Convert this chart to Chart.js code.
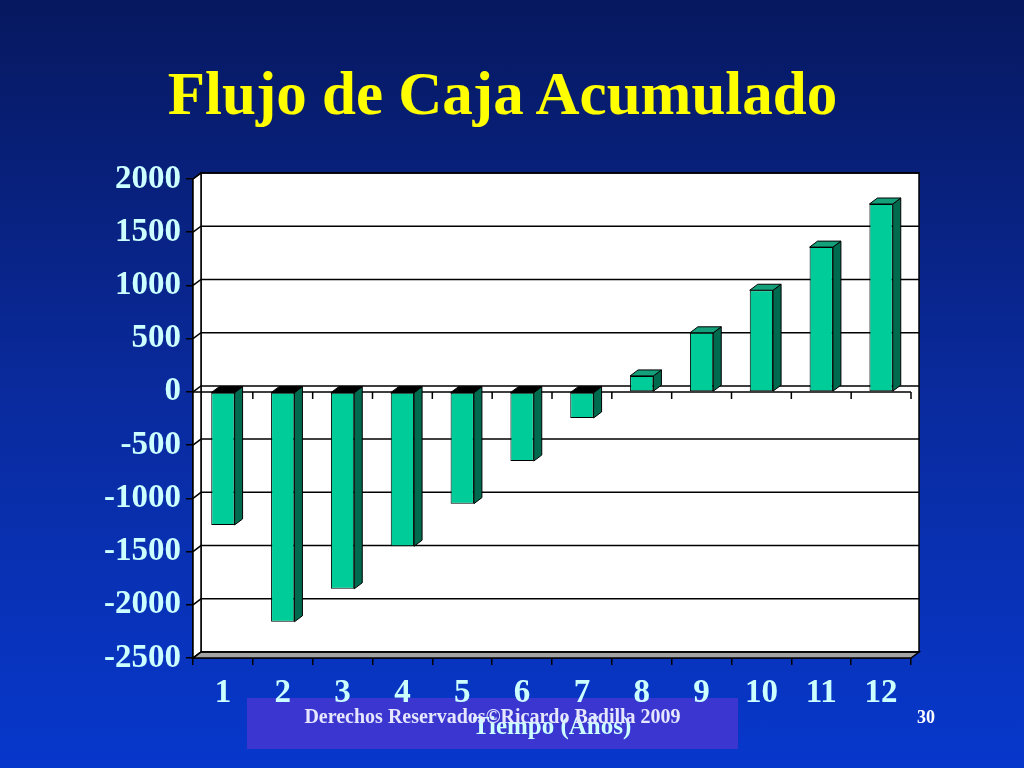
<!DOCTYPE html>
<html lang="es">
<head>
<meta charset="utf-8">
<title>Flujo de Caja Acumulado</title>
<script src="https://cdn.jsdelivr.net/npm/chart.js@4"></script>
<style>
  html, body { margin: 0; padding: 0; }
  body {
    width: 1024px; height: 768px; overflow: hidden; position: relative;
    background: linear-gradient(to bottom, #06185f 0%, #0a2a9c 50%, #0738cc 100%);
    font-family: "Liberation Serif", "Times New Roman", serif;
  }
  #titulo {
    position: absolute; left: 0; top: 58px; width: 1005px; margin: 0;
    text-align: center; color: #ffff00; font-weight: bold; font-size: 61px; line-height: 72px;
  }
  #pie { position: absolute; left: 247px; top: 698px; width: 491px; height: 51px; background: #3a36cf; }
  #derechos {
    position: absolute; left: 247px; top: 704px; width: 491px;
    text-align: center; color: #e6e6ff; font-weight: bold; font-size: 20px; line-height: 24px;
  }
  #pagina {
    position: absolute; left: 906px; top: 707px; width: 40px;
    text-align: center; color: #ffffff; font-weight: bold; font-size: 18px; line-height: 20px;
  }
  #lienzo { position: absolute; left: 0; top: 0; }
</style>
</head>
<body>
<h1 id="titulo">Flujo de Caja Acumulado</h1>
<div id="pie"></div>
<canvas id="lienzo" width="1024" height="768"></canvas>
<div id="derechos">Derechos Reservados©Ricardo Badilla 2009</div>
<div id="pagina">30</div>

<script>
// datos
const anios = ['1', '2', '3', '4', '5', '6', '7', '8', '9', '10', '11', '12'];
const flujoAcumulado = [-1250, -2160, -1850, -1450, -1050, -650, -245, 150, 555, 955, 1360, 1765];
const valoresEjeY = [-2500, -2000, -1500, -1000, -500, 0, 500, 1000, 1500, 2000];

const fuente = "'Liberation Serif', 'Times New Roman', serif";
const colorTexto = '#ccffff';

// profundidad del efecto 3D
const fondoX = 8, fondoY = 6;

// paredes, piso y lineas de division dibujadas detras de las barras
const marco3d = {
  id: 'marco3d',
  beforeDatasetsDraw(chart) {
    const { ctx, chartArea: a, scales: { x, y } } = chart;
    ctx.save();
    ctx.strokeStyle = '#000';
    ctx.lineWidth = 1.5;

    // pared del fondo
    ctx.fillStyle = '#ffffff';
    ctx.fillRect(a.left + fondoX, a.top - fondoY, a.right - a.left, a.bottom - a.top);
    ctx.strokeRect(a.left + fondoX, a.top - fondoY, a.right - a.left, a.bottom - a.top);

    // pared lateral
    ctx.beginPath();
    ctx.moveTo(a.left, a.top);
    ctx.lineTo(a.left + fondoX, a.top - fondoY);
    ctx.lineTo(a.left + fondoX, a.bottom - fondoY);
    ctx.lineTo(a.left, a.bottom);
    ctx.closePath();
    ctx.fill();
    ctx.stroke();

    // piso
    ctx.beginPath();
    ctx.moveTo(a.left, a.bottom);
    ctx.lineTo(a.right, a.bottom);
    ctx.lineTo(a.right + fondoX, a.bottom - fondoY);
    ctx.lineTo(a.left + fondoX, a.bottom - fondoY);
    ctx.closePath();
    ctx.fillStyle = '#a4a4a4';
    ctx.fill();
    ctx.stroke();

    // lineas de division
    y.ticks.forEach(t => {
      const py = y.getPixelForValue(t.value);
      ctx.beginPath();
      ctx.moveTo(a.left, py);
      ctx.lineTo(a.left + fondoX, py - fondoY);
      ctx.lineTo(a.right + fondoX, py - fondoY);
      ctx.stroke();
    });

    // eje de categorias en cero
    const cero = y.getPixelForValue(0);
    ctx.beginPath();
    ctx.moveTo(a.left, cero);
    ctx.lineTo(a.right, cero);
    for (let i = 1; i <= anios.length; i++) {
      const px = x.getPixelForValue(i - 0.5);
      ctx.moveTo(px, cero);
      ctx.lineTo(px, cero + 7);
    }
    ctx.stroke();
    ctx.restore();
  },

  // caras lateral y superior de cada barra
  afterDatasetsDraw(chart) {
    const { ctx } = chart;
    const barras = chart.getDatasetMeta(0).data;
    ctx.save();
    ctx.strokeStyle = '#000';
    ctx.lineWidth = 1;
    barras.forEach((barra, i) => {
      const { x, y, base, width } = barra.getProps(['x', 'y', 'base', 'width'], true);
      const izq = x - width / 2, der = x + width / 2;
      const arriba = Math.min(y, base), abajo = Math.max(y, base);

      ctx.beginPath();
      ctx.moveTo(der, arriba);
      ctx.lineTo(der + fondoX, arriba - fondoY);
      ctx.lineTo(der + fondoX, abajo - fondoY);
      ctx.lineTo(der, abajo);
      ctx.closePath();
      ctx.fillStyle = '#006a4e';
      ctx.fill();
      ctx.stroke();

      ctx.beginPath();
      ctx.moveTo(izq, arriba);
      ctx.lineTo(izq + fondoX, arriba - fondoY);
      ctx.lineTo(der + fondoX, arriba - fondoY);
      ctx.lineTo(der, arriba);
      ctx.closePath();
      ctx.fillStyle = flujoAcumulado[i] >= 0 ? '#13a07a' : '#000000';
      ctx.fill();
      ctx.stroke();
    });
    ctx.restore();
  }
};

new Chart(document.getElementById('lienzo'), {
  type: 'bar',
  data: {
    labels: anios,
    datasets: [{
      data: flujoAcumulado,
      backgroundColor: '#00cc99',
      borderColor: '#000',
      borderWidth: 1,
      borderSkipped: false,
      barPercentage: 0.39,
      categoryPercentage: 1
    }]
  },
  options: {
    responsive: false,
    animation: false,
    layout: { padding: { left: 0, right: 113, top: 179, bottom: 0 } },
    plugins: {
      legend: { display: false },
      tooltip: { enabled: false }
    },
    scales: {
      x: {
        afterFit(scale) { scale.height = 110; },
        grid: { drawOnChartArea: false, drawTicks: true, tickLength: 7, color: '#000', lineWidth: 1.5 },
        border: { display: true, color: '#000', width: 1.5 },
        ticks: { color: colorTexto, padding: 9, font: { family: fuente, weight: 'bold', size: 33 } },
        title: {
          display: true,
          text: 'Tiempo (Años)',
          color: colorTexto,
          padding: { top: 0, bottom: 25 },
          font: { family: fuente, weight: 'bold', size: 25 }
        }
      },
      y: {
        min: valoresEjeY[0],
        max: valoresEjeY[valoresEjeY.length - 1],
        afterFit(scale) { scale.width = 193; },
        grid: { drawOnChartArea: false, drawTicks: true, tickLength: 7, color: '#000', lineWidth: 1.5 },
        border: { display: true, color: '#000', width: 1.5 },
        ticks: {
          stepSize: valoresEjeY[1] - valoresEjeY[0],
          callback: v => String(v),
          color: colorTexto,
          padding: 5,
          font: { family: fuente, weight: 'bold', size: 33 }
        }
      }
    }
  },
  plugins: [marco3d]
});
</script>
</body>
</html>
